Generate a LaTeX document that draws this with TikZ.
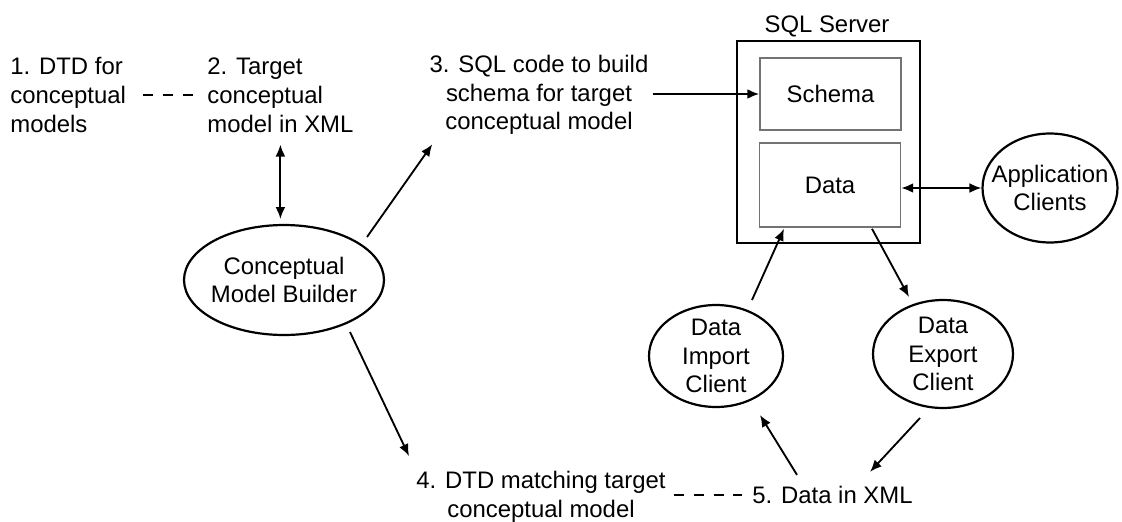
\documentclass[tikz,border=0pt]{standalone}
\usepackage{fontspec}
\setmainfont{Liberation Sans}
\usetikzlibrary{calc}
\usetikzlibrary{shapes.geometric}
\usetikzlibrary{arrows.meta}
\newcommand{\figfont}{\fontsize{13.6}{16.4}\selectfont}
\tikzstyle{caption}=[font=\figfont, inner sep=0pt]
\tikzstyle{client}=[draw, ellipse, line width=1.25pt, inner sep=0pt]
\tikzstyle{store}=[draw=black!55, line width=0.9pt, minimum width=2.82cm, font=\figfont]
\tikzstyle{flow}=[->, line width=1.05pt]
\tikzstyle{link}=[dash pattern=on 5.7pt off 5.6pt, line width=1pt]
\tikzset{>={Latex[length=6.8pt,width=5.6pt]}}
\newcommand{\drawclient}[5]{
  \node[client, minimum width=#4cm, minimum height=#5cm] (#1) at (#2) {};
  \node[caption, align=center] (#1text) at (#1) {#3};
}

\begin{document}
\begin{tikzpicture}[x=0.02cm,y=-0.02cm]
  \useasboundingbox (0,0) rectangle (1122,521);
  % documents
  \node[caption, anchor=west, align=left] (dtd) at (10,95) {1. DTD for\\conceptual\\models};
  \node[caption, anchor=west, align=left] (target) at (207,95) {2. Target\\conceptual\\model in XML};
  \node[caption, align=center] (sqlcode) at (539,95) {3. SQL code to build\\schema for target\\conceptual model};
  \node[caption, align=center] (dtdmatch) at (541,497) {4. DTD matching target\\conceptual model};
  \node[caption, anchor=west] (xmldata) at (752,495) {5. Data in XML};
  % server
  \node[draw, line width=1.6pt, minimum width=3.66cm, minimum height=4.04cm] (server) at (828.5,142) {};
  \node[caption] (servertitle) at (827,26) {SQL Server};
  \node[store, minimum height=1.44cm] (schema) at (830.5,94) {Schema};
  \node[store, minimum height=1.68cm] (data) at (830,185) {Data};
  % clients
  \drawclient{builder}{284,280}{Conceptual\\Model Builder}{4}{2.2}
  \drawclient{importer}{716,356}{Data\\Import\\Client}{2.68}{2.04}
  \drawclient{exporter}{943,354}{Data\\Export\\Client}{2.8}{2.16}
  \drawclient{app}{1050,188}{Application\\Clients}{2.7}{2.18}
  % dashed links
  \draw[link, shorten <=9.6pt, shorten >=6.8pt] (dtd) -- (target);
  \draw[link, shorten <=4.5pt, shorten >=5.7pt] (dtdmatch.east |- xmldata.west) -- (xmldata.west);
  % arrows
  \draw[flow, <->, shorten <=6.8pt, shorten >=2.8pt] (target.south) -- (target.south |- builder.north);
  \draw[flow] ($(builder.center)+(83,-43)$) -- ($(sqlcode.south west)+(3,9)$); %3
  \draw[flow] ($(builder.center)+(66,52)$) -- ($(dtdmatch.north west)+(-7,-15)$); %4
  \draw[flow] ($(sqlcode.east |- schema.west)+(4,0)$) -- (schema.west);
  \draw[flow, <->] (app.west -| data.east) -- (app.west);
  \draw[flow] ($(importer.center)+(36,-56)$) -- ($(data.south)+(-46,1)$);
  \draw[flow] ($(data.south)+(42,1)$) -- ($(exporter.center)+(-34,-57)$);
  \draw[flow] ($(xmldata.north west)+(45,-11)$) -- ($(importer.center)+(44,59)$);
  \draw[flow] ($(exporter.center)+(-23,64)$) -- ($(xmldata.north west)+(118,-14)$);
\end{tikzpicture}
\end{document}
